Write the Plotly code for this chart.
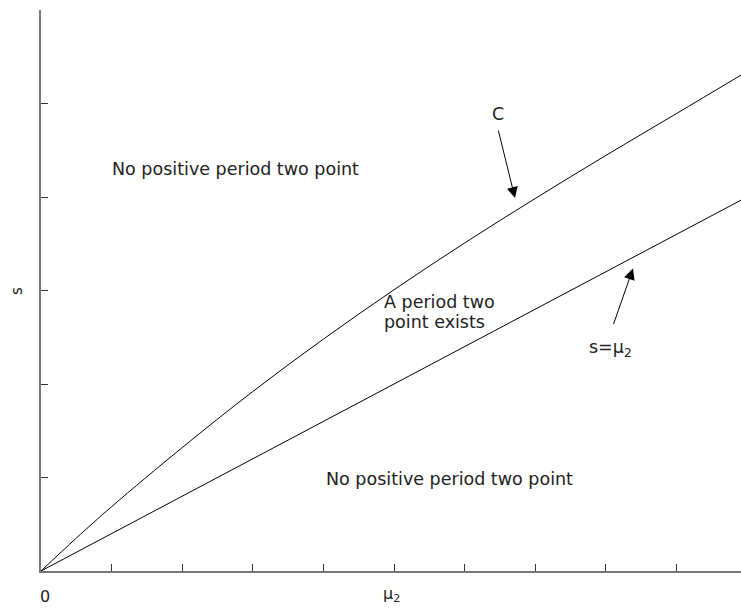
import plotly.graph_objects as go

# Curve C (upper boundary)
c_mu = [0.0, 0.05, 0.10, 0.20, 0.30, 0.40, 0.50, 0.60, 0.70, 0.80, 0.90, 0.9915]
c_s = [0.0, 0.088, 0.172, 0.330, 0.480, 0.620, 0.752, 0.877, 0.996, 1.111, 1.223, 1.326]

# Line s = mu2
l_mu = [0.0, 0.9915]
l_s = [0.0, 0.9915]

x_ticks = [0.0, 0.1, 0.2, 0.3, 0.4, 0.5, 0.6, 0.7, 0.8, 0.9]
y_ticks = [0.0, 0.25, 0.5, 0.75, 1.0, 1.25, 1.5]

FONT = "DejaVu Sans"
TXT = 17.5

fig = go.Figure()
fig.add_trace(go.Scatter(x=c_mu, y=c_s, mode="lines", line=dict(color="black", width=1),
                         line_shape="spline", showlegend=False, hoverinfo="skip"))
fig.add_trace(go.Scatter(x=l_mu, y=l_s, mode="lines", line=dict(color="black", width=1),
                         showlegend=False, hoverinfo="skip"))

ann = []
def txt(x, y, t, xa="center", size=TXT, angle=0, ref="data"):
    r = "paper" if ref == "paper" else None
    ann.append(dict(x=x, y=y, xref=r or "x", yref=r or "y", text=t, showarrow=False,
                    xanchor=xa, yanchor="middle", textangle=angle,
                    font=dict(family=FONT, size=size, color="#222")))

txt(0.275, 1.075, "No positive period two point")
txt(0.579, 0.2447, "No positive period two point")
txt(0.483, 0.719, "A period two", xa="left")
txt(0.483, 0.666, "point exists", xa="left")
txt(0.6466, 1.223, "C")
txt(0.806, 0.594, "s=μ<sub>2</sub>")
txt(0.0064, -0.0463, "0", size=16, ref="paper")
txt(0.501, -0.041, "μ<sub>2</sub>", size=16, ref="paper")
txt(-0.035, 0.5, "s", size=15, angle=-90, ref="paper")

# arrows
ann.append(dict(x=0.6714, y=0.997, xref="x", yref="y", ax=-17, ay=-69, showarrow=True,
                arrowhead=2, arrowsize=2.2, arrowwidth=1, arrowcolor="black", text=""))
ann.append(dict(x=0.8385, y=0.8086, xref="x", yref="y", ax=-20, ay=57, showarrow=True,
                arrowhead=2, arrowsize=2.2, arrowwidth=1, arrowcolor="black", text=""))

fig.update_layout(
    width=741, height=608,
    margin=dict(l=41, r=0, t=10, b=37, autoexpand=False),
    paper_bgcolor="white", plot_bgcolor="white",
    annotations=ann,
    xaxis=dict(range=[0, 0.9915], tickvals=x_ticks, showticklabels=False, ticks="inside",
               ticklen=7, tickwidth=1, tickcolor="#333", showline=True, linecolor="#777",
               linewidth=1.5, showgrid=False, zeroline=False, fixedrange=True),
    yaxis=dict(range=[0, 1.5], tickvals=y_ticks, showticklabels=False, ticks="inside",
               ticklen=7, tickwidth=1, tickcolor="#333", showline=True, linecolor="#777",
               linewidth=1.5, showgrid=False, zeroline=False, fixedrange=True),
)

# remove the page's default body margin so the figure fills the window exactly
fig.write_html("out.html", config={"displayModeBar": False},
               post_script="document.body.style.margin='0';document.body.style.overflow='hidden';")
